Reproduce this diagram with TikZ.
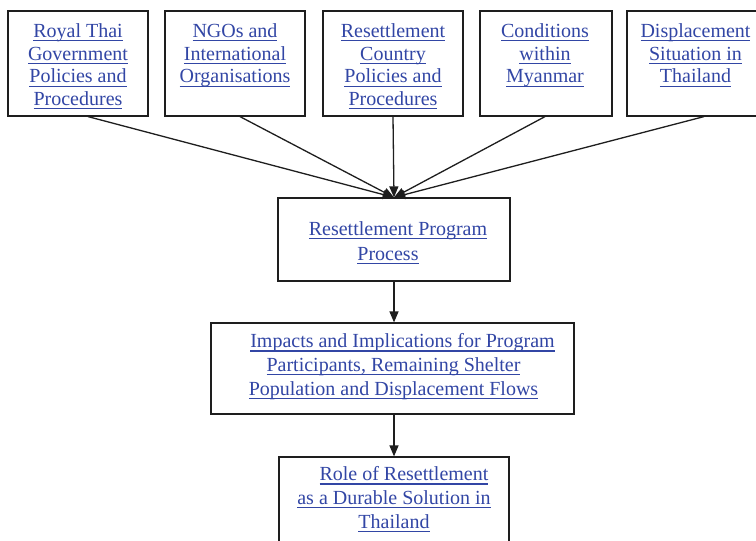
\documentclass[tikz,border=0pt]{standalone}
\usepackage{fontspec}
\setmainfont{Liberation Serif}
\usetikzlibrary{arrows.meta}
\definecolor{lnk}{RGB}{50,70,165}
\definecolor{edge}{RGB}{30,30,30}
\newcommand{\ulk}[1]{\setbox0\hbox{#1}\rlap{\color{lnk}\rule[-3.8pt]{\wd0}{1.1pt}}\box0}
\newcommand{\fst}{\rule{0pt}{14pt}}
\tikzset{
  box/.style={draw=edge, line width=1.2pt, rectangle, inner sep=0pt},
  txt/.style={text=lnk, align=center, inner sep=0pt, anchor=north},
  arr/.style={draw=edge, line width=1.3pt, -{Triangle[length=11pt,width=9pt]}},
}
\begin{document}
\begin{tikzpicture}[x=1pt,y=-1pt]
\clip (0,0) rectangle (756,541);
\fill[white] (0,0) rectangle (756,541);
% top boxes
\node[box, minimum width=140pt, minimum height=105pt] (b1) at (78,63.5) {};
\node[box, minimum width=140pt, minimum height=105pt] (b2) at (235,63.5) {};
\node[box, minimum width=140pt, minimum height=105pt] (b3) at (393,63.5) {};
\node[box, minimum width=132pt, minimum height=105pt] (b4) at (546,63.5) {};
\node[box, minimum width=137pt, minimum height=105pt] (b5) at (695.5,63.5) {};
\begin{scope}[every node/.append style={font=\fontsize{20}{22.8}\selectfont}]
\node[txt] (t1) at (78,23) {\ulk{\fst Royal Thai}\\\ulk{Government}\\\ulk{Policies and}\\\ulk{Procedures}};
\node[txt] (t2) at (235,23) {\ulk{\fst NGOs and}\\\ulk{International}\\\ulk{Organisations}};
\node[txt] (t3) at (393,23) {\ulk{\fst Resettlement}\\\ulk{Country}\\\ulk{Policies and}\\\ulk{Procedures}};
\node[txt] (t4) at (545,23) {\ulk{\fst Conditions}\\\ulk{within}\\\ulk{Myanmar}};
\node[txt] (t5) at (695.5,23) {\ulk{\fst Displacement}\\\ulk{Situation in}\\\ulk{Thailand}};
\end{scope}
% process box
\node[box, minimum width=232pt, minimum height=83pt] (p) at (394,239.5) {};
\node[txt, font=\fontsize{20}{25}\selectfont] (pt) at (388,221) {\hspace*{20pt}\ulk{\fst Resettlement Program}\\\ulk{Process}};
% impacts box
\node[box, minimum width=363pt, minimum height=91pt] (im) at (392.5,368.5) {};
\node[txt, font=\fontsize{20}{23.7}\selectfont] (imt) at (393.5,333.5) {\hspace*{18pt}\ulk{\fst Impacts and Implications for Program}\\\ulk{Participants, Remaining Shelter}\\\ulk{Population and Displacement Flows}};
% role box
\node[box, minimum width=230pt, minimum height=95pt] (r) at (394,504.5) {};
\node[txt, font=\fontsize{20}{23.7}\selectfont] (rt) at (394,466.5) {\hspace*{20pt}\ulk{\fst Role of Resettlement}\\\ulk{as a Durable Solution in}\\\ulk{Thailand}};
% connectors
\draw[arr] ([xshift=10pt]b1.south) -- (p.north);
\draw[arr] ([xshift=5pt]b2.south) -- (p.north);
\draw[arr] (b3.south) -- (p.north);
\draw[arr] ([xshift=-1pt]b4.south) -- (p.north);
\draw[arr] ([xshift=8.5pt]b5.south) -- (p.north);
\draw[arr] (p.south) -- (p.south |- im.north);
\draw[arr] (im.south -| r.north) -- (r.north);
\end{tikzpicture}
\end{document}
